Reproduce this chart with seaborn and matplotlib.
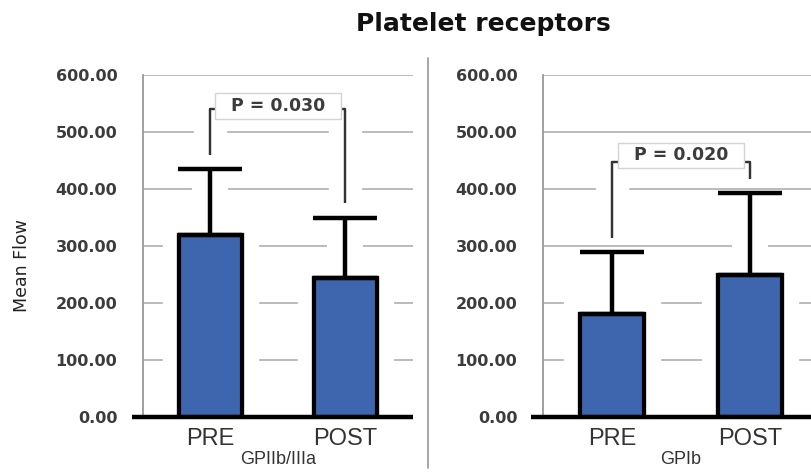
import numpy as np
import pandas as pd
import seaborn as sns
import matplotlib.pyplot as plt
import matplotlib.patheffects as pe
from matplotlib.ticker import FormatStrFormatter
from matplotlib.lines import Line2D

# data
phases = ["PRE", "POST"]
groups = ["GPIIb/IIIa", "GPIb"]
gp2b3a_mean = [320, 243]
gp2b3a_sd = [115, 106]
gpib_mean = [180, 250]
gpib_sd = [110, 143]
p_labels = ["P = 0.030", "P = 0.020"]
bracket_low = [[460, 375], [314, 418]]   # lower end of the left / right bracket legs
bracket_top = [540, 447]
p_label_y = [546, 459]

sns.set_style("white")
plt.rcParams["font.family"] = ["DejaVu Sans"]

bar_color = "#3E66AE"
grid_color = "#a8a8a8"
axis_gray = "#9a9a9a"
text_gray = "#3c3c3c"

fig = plt.figure(figsize=(8.12, 4.72), dpi=100)
ax1 = fig.add_axes([143 / 812, 55 / 472, 270 / 812, 342 / 472])
ax2 = fig.add_axes([543 / 812, 55 / 472, 276 / 812, 342 / 472])

panels = [
    (ax1, gp2b3a_mean, gp2b3a_sd),
    (ax2, gpib_mean, gpib_sd),
]

halo = [pe.withStroke(linewidth=24, foreground="white"), pe.Normal()]

for i, (ax, means, sds) in enumerate(panels):
    df = pd.DataFrame({"phase": phases, "mean": means})
    sns.barplot(data=df, x="phase", y="mean", color=bar_color, saturation=1,
                edgecolor="black", linewidth=3, width=0.47, errorbar=None, ax=ax)
    for bar in ax.patches:
        bar.set_path_effects(halo)
        bar.set_zorder(1)

    xpos = np.arange(len(phases))
    zeros = np.zeros(len(means))
    # white gap behind the error lines, then the black error bars
    ax.errorbar(xpos, means, yerr=[zeros, sds], fmt="none", ecolor="white",
                elinewidth=26, zorder=0.9)
    ax.errorbar(xpos, means, yerr=[zeros, sds], fmt="none", ecolor="black",
                elinewidth=3.2, capsize=23, capthick=3.2, zorder=2)

    # significance bracket + p label
    lo = bracket_low[i]
    ax.plot([xpos[0], xpos[0], xpos[1], xpos[1]],
            [lo[0], bracket_top[i], bracket_top[i], lo[1]],
            color="#333333", lw=1.6, solid_capstyle="butt", zorder=1.5,
            path_effects=[pe.withStroke(linewidth=24, foreground="white"), pe.Normal()])
    ax.text(xpos.mean(), p_label_y[i], "  " + p_labels[i] + "  ", ha="center", va="center",
            fontsize=12.5, fontweight="bold", color=text_gray, zorder=5,
            bbox=dict(boxstyle="square,pad=0.22", fc="white", ec="#d4d4d4", lw=1))

    ax.set_ylim(0, 600)
    ax.set_xlim(-0.5, 1.5)
    ax.set_yticks(np.arange(0, 601, 100))
    ax.yaxis.set_major_formatter(FormatStrFormatter("%.2f"))
    ax.yaxis.grid(True, color=grid_color, lw=1.1)
    ax.xaxis.grid(False)
    ax.set_axisbelow(True)

    for side in ["top", "right", "bottom"]:
        ax.spines[side].set_visible(False)
    ax.spines["left"].set_color(axis_gray)
    ax.spines["left"].set_linewidth(1.3)
    ax.spines["left"].set_zorder(3)

    ax.tick_params(axis="y", length=8.5, width=1.1, color=axis_gray, direction="out",
                   pad=10, labelsize=11.5, labelcolor=text_gray)
    for lbl in ax.get_yticklabels():
        lbl.set_fontweight("bold")

    ax.set_xticks(xpos)
    ax.set_xticklabels(phases)
    ax.set_xticks([-0.5, 0.5, 1.5], minor=True)
    ax.tick_params(axis="x", which="major", length=0, pad=8, labelsize=17,
                   labelcolor="#333333")
    ax.tick_params(axis="x", which="minor", length=5, width=1.1, color=axis_gray,
                   direction="out")
    for lbl in ax.get_xticklabels():
        lbl.set_family("Liberation Sans")
    ax.set_xlabel(groups[i], fontsize=13, family="Liberation Sans",
                  color="#333333", labelpad=1)
    ax.set_ylabel("")

    # thick black base line, running over the 0 tick
    ax.plot([-0.042, 1], [0, 0], transform=ax.transAxes, color="black", lw=3.2,
            clip_on=False, zorder=4, solid_capstyle="butt")

fig.text(22 / 812, 1 - 266 / 472, "Mean Flow", rotation=90, ha="center", va="center",
         fontsize=12.5, family=["Liberation Sans Narrow", "DejaVu Sans"], color="#222222")
fig.text(483 / 812, 1 - 24 / 472, "Platelet receptors", ha="center", va="center",
         fontsize=18, fontweight="bold", family="DejaVu Sans", color="#111111")
fig.add_artist(Line2D([428 / 812, 428 / 812], [1 - 468 / 472, 1 - 58 / 472],
                      transform=fig.transFigure, color="#a0a0a0", lw=1.3))

fig.savefig("out.png", dpi=100)
